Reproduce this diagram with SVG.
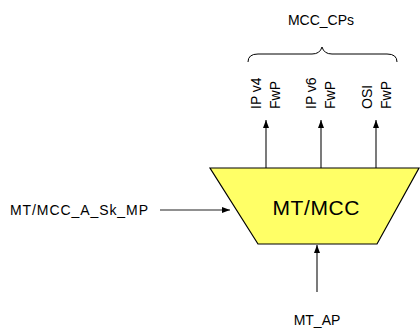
<svg xmlns="http://www.w3.org/2000/svg" width="420" height="328" viewBox="0 0 420 328">
<style>
text{font-family:"Liberation Sans",Arial,sans-serif;fill:#000;font-size:14px}
text.big{font-size:21px}
.c{stroke:#222;stroke-width:1.2;fill:none}
</style>
<defs>
<marker id="ah" viewBox="0 0 8 6" refX="8" refY="3" markerWidth="8" markerHeight="6" markerUnits="userSpaceOnUse" orient="auto">
<path d="M0,0 L8,3 L0,6 Z" fill="#000"/>
</marker>
</defs>
<rect width="420" height="328" fill="#fff"/>
<g id="connectors">
<line class="c" x1="266" y1="168" x2="266" y2="120" marker-end="url(#ah)"/>
<line class="c" x1="321" y1="168" x2="321" y2="120" marker-end="url(#ah)"/>
<line class="c" x1="376" y1="168" x2="376" y2="120" marker-end="url(#ah)"/>
<line class="c" x1="160" y1="210" x2="230" y2="210" marker-end="url(#ah)"/>
<line class="c" x1="317" y1="292" x2="317" y2="245" marker-end="url(#ah)"/>
</g>
<g id="mtmcc">
<polygon points="210,168 419,168 377,244 258,244" fill="#ffff66" stroke="#000" stroke-width="1.2"/>
<text class="big" x="316" y="215" text-anchor="middle" textLength="87" lengthAdjust="spacing">MT/MCC</text>
</g>
<g id="cps">
<path d="M248,62 Q248,54 258,54 L312,54 Q320,54 322,47 Q324,54 332,54 L387,54 Q397,54 397,62" fill="none" stroke="#000" stroke-width="1"/>
<text x="321" y="25" text-anchor="middle">MCC_CPs</text>
<text transform="translate(261,109) rotate(-90)">IP v4</text>
<text transform="translate(280,109) rotate(-90)">FwP</text>
<text transform="translate(316,109) rotate(-90)">IP v6</text>
<text transform="translate(335,109) rotate(-90)">FwP</text>
<text transform="translate(372,109) rotate(-90)">OSI</text>
<text transform="translate(391,109) rotate(-90)">FwP</text>
</g>
<g id="sk">
<text x="10" y="215" textLength="138" lengthAdjust="spacing">MT/MCC_A_Sk_MP</text>
</g>
<g id="ap">
<text x="317" y="325" text-anchor="middle">MT_AP</text>
</g>
</svg>
